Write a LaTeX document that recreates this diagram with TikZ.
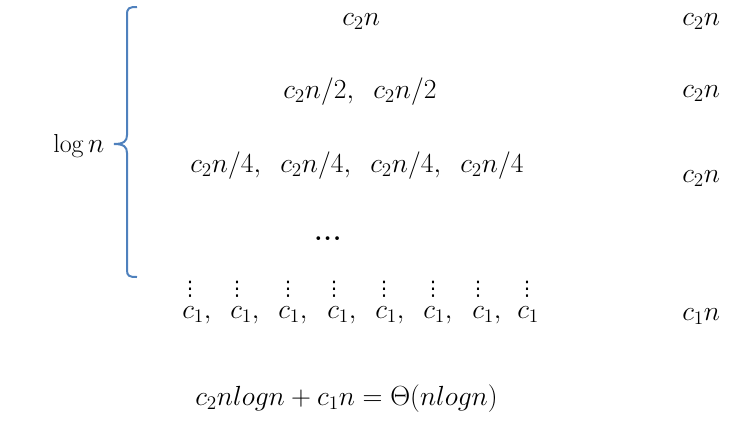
\documentclass[tikz,border=0pt]{standalone}
\usepackage{amsmath}
\usepackage{fontspec}
\usepackage{tikz}
\usepackage{color}
\newfontfamily\dotsfont{DejaVu Sans}
\definecolor{braceblue}{RGB}{79,129,189}
\newcommand{\leafdots}{{\dotsfont\fontsize{15}{17}\selectfont ⋮}}

\begin{document}
\begin{tikzpicture}[x=0.75pt,y=0.75pt,yscale=-1,xscale=1,font=\fontsize{19.5}{23}\selectfont]
\path[use as bounding box] (0,0) rectangle (743,436); %set diagram 743 by 436

%Shape: Brace [id:brace01] 
\draw [color=braceblue ,draw opacity=1 ][line width=1.5]  (137,7) .. controls (129,7) and (127,8) .. (127,15) -- (127,135) .. controls (127,141) and (124,144) .. (114,144) .. controls (124,144) and (127,147) .. (127,153) -- (127,270) .. controls (127,276) and (129,277) .. (137,277) ;

% Text Node
\draw (52,152) node [anchor=base west][inner sep=0.75pt]  (logn)  {$\log n$};
% Text Node
\draw (341,25) node [anchor=base west][inner sep=0.75pt]  (lvla)  {$c_2n$};
% Text Node
\draw (282,98) node [anchor=base west][inner sep=0.75pt]  (lvlba)  {$c_2n/2,$};
% Text Node
\draw (372,98) node [anchor=base west][inner sep=0.75pt]  (lvlbb)  {$c_2n/2$};
% Text Node
\draw (189,172) node [anchor=base west][inner sep=0.75pt]  (lvlca)  {$c_2n/4,$};
% Text Node
\draw (279,172) node [anchor=base west][inner sep=0.75pt]  (lvlcb)  {$c_2n/4,$};
% Text Node
\draw (369,172) node [anchor=base west][inner sep=0.75pt]  (lvlcc)  {$c_2n/4,$};
% Text Node
\draw (459,172) node [anchor=base west][inner sep=0.75pt]  (lvlcd)  {$c_2n/4$};
% Text Node
\draw (313,240) node [anchor=base west][inner sep=0.75pt]  (lvldots)  {\textbf{.\kern1pt.\kern1pt.}};

% Text Node
\draw (190,289) node [inner sep=0pt]  (vda)  {\leafdots};
% Text Node
\draw (237,289) node [inner sep=0pt]  (vdb)  {\leafdots};
% Text Node
\draw (288,289) node [inner sep=0pt]  (vdc)  {\leafdots};
% Text Node
\draw (334,289) node [inner sep=0pt]  (vdd)  {\leafdots};
% Text Node
\draw (384,289) node [inner sep=0pt]  (vde)  {\leafdots};
% Text Node
\draw (433,289) node [inner sep=0pt]  (vdf)  {\leafdots};
% Text Node
\draw (478,289) node [inner sep=0pt]  (vdg)  {\leafdots};
% Text Node
\draw (527,289) node [inner sep=0pt]  (vdh)  {\leafdots};

% Text Node
\draw (181,318) node [anchor=base west][inner sep=0.75pt]  (leafa)  {$c_1,$};
% Text Node
\draw (229,318) node [anchor=base west][inner sep=0.75pt]  (leafb)  {$c_1,$};
% Text Node
\draw (277,318) node [anchor=base west][inner sep=0.75pt]  (leafc)  {$c_1,$};
% Text Node
\draw (326,318) node [anchor=base west][inner sep=0.75pt]  (leafd)  {$c_1,$};
% Text Node
\draw (374,318) node [anchor=base west][inner sep=0.75pt]  (leafe)  {$c_1,$};
% Text Node
\draw (422,318) node [anchor=base west][inner sep=0.75pt]  (leaff)  {$c_1,$};
% Text Node
\draw (471,318) node [anchor=base west][inner sep=0.75pt]  (leafg)  {$c_1,$};
% Text Node
\draw (516,318) node [anchor=base west][inner sep=0.75pt]  (leafh)  {$c_1$};

% Text Node
\draw (681,25) node [anchor=base west][inner sep=0.75pt]  (suma)  {$c_2n$};
% Text Node
\draw (681,97) node [anchor=base west][inner sep=0.75pt]  (sumb)  {$c_2n$};
% Text Node
\draw (681,182) node [anchor=base west][inner sep=0.75pt]  (sumc)  {$c_2n$};
% Text Node
\draw (681,320) node [anchor=base west][inner sep=0.75pt]  (sumd)  {$c_1n$};

% Text Node
\draw (194,405) node [anchor=base west][inner sep=0.75pt]  (total)  {$c_2nlogn+c_1n=\Theta(nlogn)$};

\end{tikzpicture}
\end{document}
